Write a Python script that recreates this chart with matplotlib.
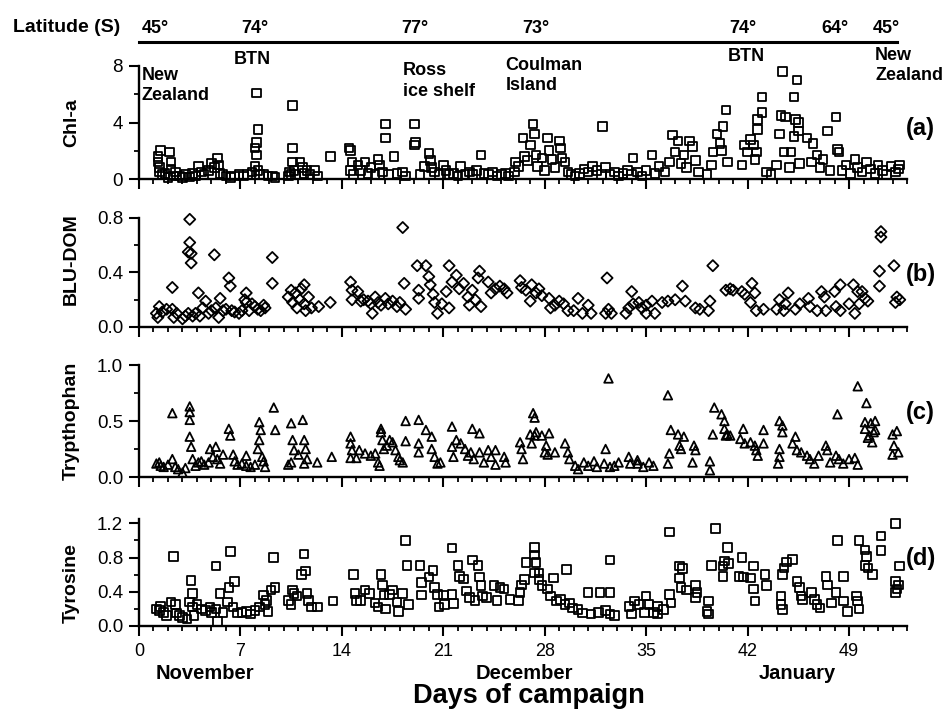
import numpy as np
import matplotlib
matplotlib.use("Agg")
import matplotlib.pyplot as plt
from matplotlib.ticker import MultipleLocator, FormatStrFormatter
from matplotlib.lines import Line2D

plt.rcParams['font.family'] = ['Liberation Sans', 'DejaVu Sans']

# (day, value)
chl_pts = [
    (1.3, 1.6), (1.3, 1.2), (1.4, 0.8), (1.4, 0.5), (1.5, 2.0), (1.6, 0.3), (2.1, 1.9), (2.2, 1.2),
    (2.2, 0.7), (2.5, 0.5), (2.4, 0.2), (1.8, 0.4), (2.0, 0.1),
    (2.8, 0.2), (3.0, 0.1), (3.2, 0.3), (3.5, 0.15), (3.7, 0.4), (3.9, 0.2), (4.1, 0.9), (4.3, 0.5),
    (4.5, 0.3), (4.8, 0.6), (5.0, 1.1), (5.2, 0.8), (5.4, 1.5), (5.5, 1.0), (5.6, 0.4), (5.8, 0.3),
    (6.0, 0.2), (6.3, 0.1), (6.6, 0.2), (6.9, 0.3), (7.2, 0.2), (7.5, 0.3), (7.8, 0.5),
    (8.1, 6.1), (8.2, 3.5), (8.1, 2.6), (8.0, 2.2), (8.1, 1.7), (8.0, 0.9), (8.2, 0.6), (8.3, 0.3),
    (8.6, 0.3), (8.9, 0.2), (9.2, 0.2), (9.4, 0.1),
    (10.3, 0.2), (10.4, 0.5), (10.5, 0.3), (10.6, 5.2), (10.6, 2.2), (10.6, 1.2), (10.7, 0.6),
    (10.8, 0.3), (11.1, 1.2), (11.3, 0.8), (11.4, 0.4), (11.6, 0.6), (11.8, 0.3), (12.1, 0.6), (12.3, 0.2),
    (13.2, 1.6),
    (14.5, 2.2), (14.6, 2.0), (14.7, 1.2), (14.6, 0.6), (14.8, 0.3), (15.1, 1.0), (15.3, 0.6), (15.6, 1.2),
    (15.8, 0.4), (16.0, 0.8), (16.3, 0.3), (16.5, 1.4), (16.6, 1.0), (16.8, 0.5), (17.0, 3.9), (17.0, 2.9),
    (17.2, 0.3), (17.6, 1.6), (17.8, 0.4), (18.2, 0.5), (18.4, 0.2),
    (19.0, 3.9), (19.1, 2.6), (19.0, 2.4), (19.4, 0.3), (19.7, 0.9), (20.0, 1.8), (20.1, 1.3), (20.2, 0.8),
    (20.4, 0.5), (20.7, 0.3), (21.0, 1.0), (21.2, 0.6), (21.4, 0.3), (21.7, 0.4), (22.0, 0.2), (22.2, 0.9),
    (22.5, 0.3), (22.8, 0.5), (23.0, 0.3), (23.3, 0.6), (23.6, 1.7), (23.8, 0.4), (24.1, 0.3), (24.4, 0.5),
    (24.7, 0.2), (25.0, 0.3), (25.3, 0.4), (25.5, 0.2),
    (25.9, 0.5), (26.0, 1.2), (26.2, 0.9), (26.5, 2.9), (26.6, 1.6), (26.8, 1.3), (27.0, 2.4), (27.2, 3.9),
    (27.3, 3.2), (27.4, 1.7), (27.5, 0.9), (27.8, 1.5), (28.0, 0.6), (28.2, 2.9), (28.3, 2.0), (28.5, 1.4),
    (28.7, 0.8), (29.0, 2.7), (29.1, 2.2), (29.2, 1.5), (29.4, 1.2), (29.6, 0.5), (29.8, 0.3),
    (30.1, 0.2), (30.4, 0.4), (30.7, 0.7), (31.0, 0.5), (31.3, 0.9), (31.6, 0.6), (31.9, 0.3), (32.0, 3.7),
    (32.2, 0.8), (32.5, 0.3), (32.8, 0.5), (33.1, 0.2), (33.4, 0.4), (33.7, 0.6), (34.0, 0.3), (34.1, 1.5),
    (34.4, 0.5), (34.7, 0.2), (35.0, 0.6), (35.4, 1.7), (35.6, 0.4), (35.9, 0.9),
    (36.3, 0.5), (36.6, 1.2), (36.8, 3.1), (37.0, 1.9), (37.2, 2.7), (37.4, 1.1), (37.6, 1.7), (37.8, 0.8),
    (38.0, 2.7), (38.2, 2.3), (38.4, 1.3), (38.6, 0.5), (39.2, 0.3), (39.5, 1.0),
    (39.6, 1.9), (39.9, 3.2), (40.1, 2.5), (40.2, 2.0), (40.3, 3.7), (40.5, 4.9), (40.6, 1.2),
    (41.6, 1.0), (41.8, 2.4), (42.0, 1.9), (42.2, 2.8), (42.4, 2.4), (42.5, 1.4), (42.6, 1.9), (42.7, 3.5),
    (42.7, 4.2), (43.0, 4.7), (43.0, 5.8), (43.3, 0.5), (43.6, 0.3),
    (44.0, 1.0), (44.2, 3.2), (44.3, 4.5), (44.4, 7.6), (44.5, 1.9), (44.6, 4.4), (44.9, 0.8), (45.0, 1.9),
    (45.2, 5.8), (45.2, 3.0), (45.3, 4.2), (45.4, 7.0), (45.5, 3.4), (45.5, 4.0), (45.6, 1.1),
    (46.1, 2.9), (46.4, 1.2), (46.5, 2.5), (46.8, 1.7), (47.0, 0.8), (47.2, 1.4), (47.5, 3.4), (47.7, 0.6),
    (48.1, 4.4), (48.2, 2.1), (48.3, 1.9), (48.5, 0.6),
    (48.8, 1.0), (49.1, 0.4), (49.4, 1.4), (49.6, 0.8), (49.9, 0.5), (50.2, 1.2), (50.5, 0.7), (50.8, 0.4),
    (51.0, 1.0), (51.3, 0.6), (51.6, 0.3), (51.9, 0.9), (52.2, 0.5), (52.5, 1.0), (52.4, 0.7),
]

blu_pts = [
    (1.2, 0.10), (1.3, 0.07), (1.4, 0.15), (1.6, 0.11), (1.9, 0.13), (2.3, 0.29), (2.3, 0.13), (2.4, 0.07),
    (2.6, 0.10), (3.0, 0.06), (3.2, 0.08), (3.4, 0.10), (3.5, 0.79), (3.5, 0.62), (3.4, 0.55), (3.6, 0.54),
    (3.6, 0.47), (3.7, 0.08), (3.9, 0.10), (4.1, 0.25), (4.2, 0.08), (4.4, 0.14), (4.6, 0.19), (4.8, 0.10),
    (5.0, 0.12), (5.2, 0.53), (5.3, 0.14), (5.5, 0.07), (5.6, 0.21), (5.8, 0.12), (6.0, 0.13), (6.2, 0.36),
    (6.3, 0.30), (6.4, 0.12), (6.6, 0.11), (6.9, 0.10), (7.1, 0.12), (7.3, 0.20), (7.4, 0.25), (7.4, 0.18),
    (7.6, 0.12), (7.8, 0.17), (8.0, 0.15), (8.2, 0.13), (8.4, 0.12), (8.6, 0.16), (8.7, 0.14), (9.2, 0.51),
    (9.2, 0.32),
    (10.3, 0.22), (10.5, 0.27), (10.6, 0.18), (10.8, 0.25), (10.9, 0.14), (11.1, 0.20), (11.2, 0.28),
    (11.4, 0.31), (11.4, 0.17), (11.5, 0.12), (11.7, 0.22), (11.9, 0.14), (12.4, 0.15), (13.2, 0.18),
    (14.6, 0.33), (14.7, 0.27), (14.7, 0.20), (15.1, 0.26), (15.3, 0.19), (15.5, 0.20), (15.8, 0.19),
    (16.0, 0.17), (16.1, 0.10), (16.3, 0.22), (16.5, 0.18), (16.7, 0.16), (17.0, 0.21), (17.2, 0.17),
    (17.5, 0.19), (17.8, 0.15), (18.2, 0.73), (18.3, 0.32), (18.4, 0.13), (18.0, 0.18),
    (19.2, 0.45), (19.3, 0.27), (19.3, 0.21), (19.8, 0.45), (20.0, 0.37), (20.1, 0.31), (20.3, 0.24),
    (20.4, 0.18), (20.6, 0.10), (20.9, 0.17), (21.2, 0.26), (21.4, 0.45), (21.4, 0.14), (21.6, 0.33),
    (21.9, 0.38), (22.1, 0.28), (22.4, 0.32), (22.7, 0.22), (22.8, 0.16),
    (23.0, 0.27), (23.2, 0.20), (23.4, 0.36), (23.5, 0.41), (23.6, 0.15), (24.1, 0.33), (24.3, 0.25),
    (24.6, 0.28), (24.9, 0.30), (25.2, 0.28), (25.4, 0.25),
    (26.3, 0.34), (26.4, 0.29), (26.7, 0.27), (27.0, 0.19), (27.1, 0.31), (27.4, 0.25), (27.6, 0.28),
    (27.8, 0.23),
    (28.3, 0.21), (28.4, 0.14), (28.7, 0.16), (29.0, 0.19), (29.3, 0.17), (29.6, 0.12), (30.3, 0.21),
    (30.0, 0.12), (30.6, 0.10), (31.0, 0.16), (31.2, 0.10),
    (32.3, 0.36), (32.2, 0.10), (32.4, 0.13), (32.6, 0.10),
    (33.6, 0.10), (33.8, 0.14), (34.0, 0.26), (34.1, 0.17), (34.5, 0.18), (34.7, 0.14), (35.0, 0.16),
    (35.4, 0.19), (35.6, 0.10), (35.0, 0.10),
    (36.1, 0.18), (36.5, 0.19), (37.0, 0.20), (37.5, 0.30), (37.7, 0.19), (38.4, 0.14), (38.7, 0.13),
    (39.4, 0.19), (39.3, 0.12), (39.6, 0.45),
    (40.5, 0.27), (40.8, 0.28), (41.0, 0.27), (41.6, 0.26), (41.8, 0.24), (42.3, 0.32), (42.5, 0.25),
    (42.2, 0.18), (42.6, 0.12), (43.1, 0.13),
    (44.2, 0.20), (44.0, 0.13), (44.5, 0.12), (44.8, 0.25), (44.6, 0.17), (45.3, 0.13), (45.6, 0.17),
    (46.2, 0.21), (46.3, 0.15), (46.8, 0.12), (47.1, 0.26), (47.3, 0.22), (47.4, 0.12), (48.0, 0.26),
    (48.4, 0.31), (48.1, 0.15), (48.4, 0.12),
    (49.0, 0.17), (49.3, 0.31), (49.6, 0.26), (49.9, 0.26), (50.1, 0.21), (50.3, 0.19), (49.4, 0.10),
    (49.7, 0.17),
    (51.2, 0.70), (51.2, 0.66), (51.1, 0.41), (51.1, 0.30), (52.1, 0.45), (52.3, 0.22), (52.2, 0.18),
    (52.5, 0.20),
]

trp_pts = [
    (1.2, 0.12), (1.4, 0.13), (1.5, 0.10), (1.7, 0.09), (2.0, 0.11), (2.3, 0.57), (2.3, 0.16), (2.5, 0.09),
    (2.7, 0.07), (3.0, 0.04), (3.2, 0.08), (3.5, 0.63), (3.5, 0.58), (3.5, 0.51), (3.5, 0.36), (3.6, 0.27),
    (3.7, 0.16), (3.9, 0.10), (4.1, 0.13), (4.3, 0.14), (4.5, 0.11), (4.8, 0.13), (4.9, 0.25), (5.1, 0.18),
    (5.3, 0.27), (5.4, 0.16), (5.6, 0.12), (5.8, 0.20), (6.2, 0.43), (6.3, 0.37), (6.5, 0.20), (6.6, 0.14),
    (6.8, 0.11), (7.1, 0.12), (7.4, 0.19), (7.4, 0.10), (7.7, 0.09), (8.0, 0.11), (8.3, 0.49), (8.4, 0.42),
    (8.3, 0.33), (8.2, 0.25), (8.5, 0.18), (8.6, 0.14), (8.7, 0.09), (9.3, 0.62), (9.4, 0.42),
    (10.3, 0.11), (10.5, 0.48), (10.6, 0.33), (10.7, 0.24), (10.5, 0.13), (11.0, 0.20), (11.3, 0.51),
    (11.4, 0.33), (11.5, 0.25), (11.6, 0.16), (11.4, 0.12), (12.3, 0.13), (13.3, 0.18),
    (14.6, 0.36), (14.6, 0.30), (14.7, 0.24), (14.6, 0.17), (15.0, 0.17), (15.2, 0.24), (15.6, 0.21),
    (16.0, 0.19), (16.3, 0.21), (16.5, 0.13), (16.7, 0.43), (16.7, 0.40), (16.8, 0.33), (16.9, 0.25),
    (16.6, 0.10), (17.1, 0.28), (17.3, 0.33), (17.5, 0.31), (17.7, 0.24), (17.9, 0.18), (18.0, 0.15),
    (18.2, 0.13), (18.4, 0.50), (18.4, 0.32),
    (19.3, 0.51), (19.3, 0.30), (19.3, 0.22), (19.8, 0.42), (20.2, 0.36), (20.2, 0.25), (20.4, 0.18),
    (20.6, 0.12), (20.8, 0.13), (21.6, 0.45), (21.6, 0.27), (21.7, 0.18), (21.9, 0.33), (22.2, 0.30),
    (22.5, 0.25), (22.7, 0.19), (23.0, 0.43),
    (23.5, 0.39), (22.9, 0.22), (23.1, 0.16), (23.5, 0.22), (23.8, 0.13), (24.1, 0.24), (24.3, 0.18),
    (24.6, 0.24), (24.6, 0.11), (25.2, 0.18), (25.3, 0.13),
    (26.3, 0.31), (26.4, 0.25), (26.5, 0.16), (27.2, 0.57), (27.3, 0.53), (27.0, 0.38), (27.3, 0.37),
    (27.4, 0.40), (27.1, 0.30), (27.8, 0.37), (28.3, 0.39), (28.1, 0.28), (28.0, 0.22), (28.2, 0.20),
    (28.7, 0.22),
    (29.4, 0.30), (29.6, 0.22), (29.7, 0.16), (30.1, 0.10), (30.3, 0.07), (30.7, 0.13), (31.0, 0.10),
    (31.4, 0.14), (31.6, 0.09),
    (32.2, 0.25), (32.1, 0.12), (32.4, 0.88), (32.5, 0.09), (32.8, 0.10), (33.1, 0.13),
    (33.8, 0.18), (33.9, 0.12), (34.4, 0.15), (34.8, 0.09), (35.2, 0.13), (35.5, 0.10), (34.4, 0.12),
    (36.5, 0.73), (36.7, 0.42), (36.6, 0.21), (36.5, 0.12), (37.2, 0.38), (37.6, 0.36), (37.3, 0.28),
    (37.4, 0.25), (38.3, 0.28), (38.4, 0.24), (38.2, 0.13),
    (39.4, 0.14), (39.4, 0.06), (39.6, 0.38), (39.7, 0.62), (40.2, 0.56), (40.4, 0.50), (40.4, 0.43),
    (40.6, 0.38), (40.5, 0.37), (40.8, 0.37),
    (41.5, 0.34), (41.7, 0.43), (41.8, 0.30), (42.2, 0.31), (42.5, 0.28), (42.6, 0.24), (42.7, 0.19),
    (43.1, 0.42), (43.1, 0.30),
    (44.2, 0.50), (44.4, 0.46), (44.4, 0.40), (44.2, 0.25), (44.2, 0.18), (44.1, 0.12),
    (45.1, 0.30), (45.3, 0.36), (45.4, 0.24), (45.7, 0.22), (46.1, 0.19), (46.3, 0.16), (46.6, 0.12),
    (46.9, 0.19), (47.4, 0.28), (47.5, 0.24), (47.7, 0.13), (48.1, 0.19), (48.3, 0.16), (48.6, 0.12),
    (49.0, 0.16), (49.4, 0.17), (49.6, 0.11), (48.2, 0.56),
    (49.6, 0.81), (50.2, 0.66), (50.1, 0.49), (50.1, 0.43), (50.5, 0.48), (50.7, 0.40), (50.8, 0.50),
    (50.8, 0.42), (50.3, 0.35), (50.6, 0.31), (50.4, 0.37),
    (52.0, 0.38), (52.3, 0.41), (52.1, 0.28), (52.4, 0.22), (52.0, 0.20),
]

tyr_pts = [
    (1.2, 0.20), (1.4, 0.18), (1.5, 0.23), (1.7, 0.16), (1.9, 0.12), (2.2, 0.28), (2.4, 0.81), (2.5, 0.25),
    (2.6, 0.15), (2.8, 0.12), (3.0, 0.10), (3.3, 0.08), (3.5, 0.28), (3.6, 0.53), (3.7, 0.38), (3.7, 0.22),
    (3.8, 0.12), (4.0, 0.25), (4.3, 0.20), (4.6, 0.18), (4.9, 0.22), (5.0, 0.16), (5.3, 0.70), (5.3, 0.20),
    (5.4, 0.05), (5.6, 0.38), (5.8, 0.16), (6.1, 0.28), (6.3, 0.87), (6.2, 0.45), (6.6, 0.52), (6.5, 0.22),
    (6.8, 0.15), (7.1, 0.16), (7.4, 0.17), (7.7, 0.14), (8.0, 0.18), (8.3, 0.22), (8.6, 0.36), (8.7, 0.25),
    (8.9, 0.17), (8.8, 0.30), (9.1, 0.42), (9.3, 0.80), (9.4, 0.45),
    (10.3, 0.30), (10.5, 0.25), (10.6, 0.42), (10.7, 0.38), (10.9, 0.35), (11.2, 0.60), (11.4, 0.84),
    (11.5, 0.64), (11.6, 0.38), (11.7, 0.30), (11.9, 0.22), (12.3, 0.22), (13.4, 0.29),
    (14.8, 0.60), (14.9, 0.38), (15.0, 0.30), (15.3, 0.30), (15.6, 0.42), (15.9, 0.38), (16.3, 0.27),
    (16.5, 0.22), (16.7, 0.60), (16.8, 0.48), (16.9, 0.36), (17.0, 0.20), (17.3, 0.37), (17.5, 0.42),
    (17.8, 0.28), (17.9, 0.17), (18.2, 0.38), (18.4, 1.00), (18.5, 0.71), (18.6, 0.25),
    (19.4, 0.71), (19.5, 0.51), (19.5, 0.36), (20.0, 0.57), (20.3, 0.65), (20.4, 0.45), (20.6, 0.37),
    (20.7, 0.22), (21.0, 0.36), (21.1, 0.25), (21.6, 0.91), (21.6, 0.37), (21.7, 0.26), (22.0, 0.71),
    (22.1, 0.58), (22.4, 0.55), (22.6, 0.41), (22.8, 0.33), (23.0, 0.77),
    (23.4, 0.71), (23.5, 0.57), (23.6, 0.47), (23.7, 0.35), (23.2, 0.30), (24.0, 0.33), (24.5, 0.47),
    (24.9, 0.45), (25.2, 0.43), (24.7, 0.30), (25.6, 0.31),
    (26.3, 0.39), (26.4, 0.48), (26.6, 0.54), (26.7, 0.74), (27.3, 0.92), (27.3, 0.83), (27.4, 0.74),
    (27.3, 0.62), (27.6, 0.62), (27.6, 0.54), (27.8, 0.47), (26.2, 0.30),
    (28.2, 0.43), (28.4, 0.35), (28.6, 0.56), (29.5, 0.66), (28.8, 0.29), (29.1, 0.31), (29.4, 0.25),
    (29.7, 0.27), (29.9, 0.21), (30.3, 0.19), (30.6, 0.15), (31.0, 0.39), (31.8, 0.39), (32.5, 0.39),
    (32.5, 0.77), (31.2, 0.14), (31.7, 0.16), (32.2, 0.18), (32.5, 0.14), (32.8, 0.12),
    (33.8, 0.23), (34.2, 0.29), (34.5, 0.25), (35.0, 0.35), (35.2, 0.25), (35.5, 0.16), (35.8, 0.23),
    (36.2, 0.19), (34.0, 0.14), (34.9, 0.16), (35.8, 0.14),
    (36.6, 1.10), (36.6, 0.37), (36.7, 0.27), (37.3, 0.70), (37.5, 0.67), (37.3, 0.56), (37.4, 0.45),
    (37.8, 0.42), (38.4, 0.47), (38.5, 0.39), (38.4, 0.33),
    (39.3, 0.29), (39.2, 0.17), (39.3, 0.14), (39.5, 0.71), (39.8, 1.14), (40.3, 0.58), (40.4, 0.76),
    (40.6, 0.92), (40.3, 0.70), (40.7, 0.73), (41.6, 0.80), (41.4, 0.58), (41.7, 0.57),
    (42.4, 0.70), (42.4, 0.43), (42.5, 0.29), (42.2, 0.56), (43.2, 0.60), (43.3, 0.47),
    (44.3, 0.35), (44.3, 0.25), (44.4, 0.19), (44.4, 0.60), (44.5, 0.68), (45.1, 0.78), (44.7, 0.75),
    (45.4, 0.52), (45.6, 0.45), (45.7, 0.35), (45.8, 0.31), (46.4, 0.39), (46.6, 0.31), (46.8, 0.25),
    (47.0, 0.21), (47.4, 0.58), (47.5, 0.48), (47.8, 0.27), (48.1, 0.39), (48.2, 1.00), (48.6, 0.58),
    (48.6, 0.29), (48.9, 0.17), (49.5, 0.35), (49.6, 0.29), (49.7, 0.20),
    (49.7, 1.00), (50.1, 0.89), (50.2, 0.81), (50.1, 0.71), (50.3, 0.68), (50.6, 0.60), (51.2, 1.05),
    (51.2, 0.88),
    (52.2, 1.20), (52.5, 0.70), (52.2, 0.52), (52.4, 0.48), (52.3, 0.43), (52.2, 0.39),
]

lat_days = [1.1, 8.0, 19.0, 27.4, 41.7, 48.0, 51.6]
lat_labels = ["45°", "74°", "77°", "73°", "74°", "64°", "45°"]

month_days = [4.55, 26.6, 45.4]
month_labels = ["November", "December", "January"]

W, H = 947, 709


def rect(top_px, bottom_px):
    return [139 / W, 1 - bottom_px / H, 768 / W, (bottom_px - top_px) / H]


panels = [
    # data, marker, ylabel, ytop, major, minor, fmt, rect, letter, letter_y, label_y
    (chl_pts, "s", "Chl-a", 8, 4, 2, "%d", rect(66, 179), "(a)", 0.45, 0.5),
    (blu_pts, "D", "BLU-DOM", 0.8, 0.4, 0.2, "%.1f", rect(218, 327), "(b)", 0.48, 0.62),
    (trp_pts, "^", "Trypthophan", 1.0, 0.5, 0.25, "%.1f", rect(365, 477), "(c)", 0.58, 0.5),
    (tyr_pts, "s", "Tyrosine", 1.25, 0.4, 0.2, "%.1f", rect(519, 626), "(d)", 0.635, 0.4),
]

fig = plt.figure(figsize=(9.47, 7.09), dpi=100)
axes = []

for pts, mk, ylab, ytop, maj, mnr, fmt, r, letter, ly, yly in panels:
    ax = fig.add_axes(r)
    d = np.array(pts)
    ax.scatter(d[:, 0], d[:, 1], marker=mk, s=38 if mk != "D" else 32,
               facecolors="none", edgecolors="black", linewidths=1.3, clip_on=False, zorder=3)
    ax.set_xlim(0, 53)
    ax.set_ylim(0, ytop)
    for side in ("top", "right"):
        ax.spines[side].set_visible(False)
    for side in ("left", "bottom"):
        ax.spines[side].set_linewidth(1.7)
    ax.xaxis.set_major_locator(MultipleLocator(7))
    ax.xaxis.set_minor_locator(MultipleLocator(1))
    ax.yaxis.set_major_locator(MultipleLocator(maj))
    ax.yaxis.set_minor_locator(MultipleLocator(mnr))
    ax.yaxis.set_major_formatter(FormatStrFormatter(fmt))
    ax.tick_params(which="major", direction="out", length=7.5, width=1.5, labelsize=13.5, pad=4)
    ax.tick_params(which="minor", direction="out", length=3.8, width=1.3)
    ax.tick_params(axis="x", labelbottom=False)
    ax.text(-0.088, yly, ylab, transform=ax.transAxes, rotation=90, ha="center", va="center",
            fontsize=14, fontweight="bold")
    ax.text(52.9, ly, letter, transform=ax.get_xaxis_transform(), ha="left", va="center",
            fontsize=17, fontweight="bold")
    axes.append(ax)

ax_a, ax_b, ax_c, ax_d = axes

# bottom axis labels
ax_d.tick_params(axis="x", labelbottom=True, labelsize=13, pad=5)
for day, lab in zip(month_days, month_labels):
    ax_d.text(day, -0.495, lab, transform=ax_d.get_xaxis_transform(), ha="center", va="baseline",
              fontsize=14.5, fontweight="bold")
fig.text(0.558, 0.009, "Days of campaign", ha="center", va="baseline", fontsize=19.5, fontweight="bold")

# latitude bar over the top panel
tr = ax_a.get_xaxis_transform()
ax_a.add_line(Line2D([0, 52.3], [1.212, 1.212], transform=tr, color="black", linewidth=2.2,
                     clip_on=False))
for day, lab in zip(lat_days, lat_labels):
    ax_a.text(day, 1.336, lab, transform=tr, ha="center", va="center", fontsize=13, fontweight="bold")
fig.text(120 / W, 1 - 28 / H, "Latitude (S)", ha="right", va="center", fontsize=14, fontweight="bold")

# site annotations
site_kw = dict(fontsize=13, fontweight="bold", linespacing=1.25)
ax_a.text(0.2, 7.95, "New\nZealand", ha="left", va="top", **site_kw)
ax_a.text(7.8, 8.45, "BTN", ha="center", va="center", **site_kw)
ax_a.text(18.2, 8.25, "Ross\nice shelf", ha="left", va="top", **site_kw)
ax_a.text(25.3, 8.65, "Coulman\nIsland", ha="left", va="top", **site_kw)
ax_a.text(41.9, 8.65, "BTN", ha="center", va="center", **site_kw)
ax_a.text(50.8, 9.35, "New\nZealand", ha="left", va="top", **site_kw)

fig.savefig("out.png", dpi=100)
